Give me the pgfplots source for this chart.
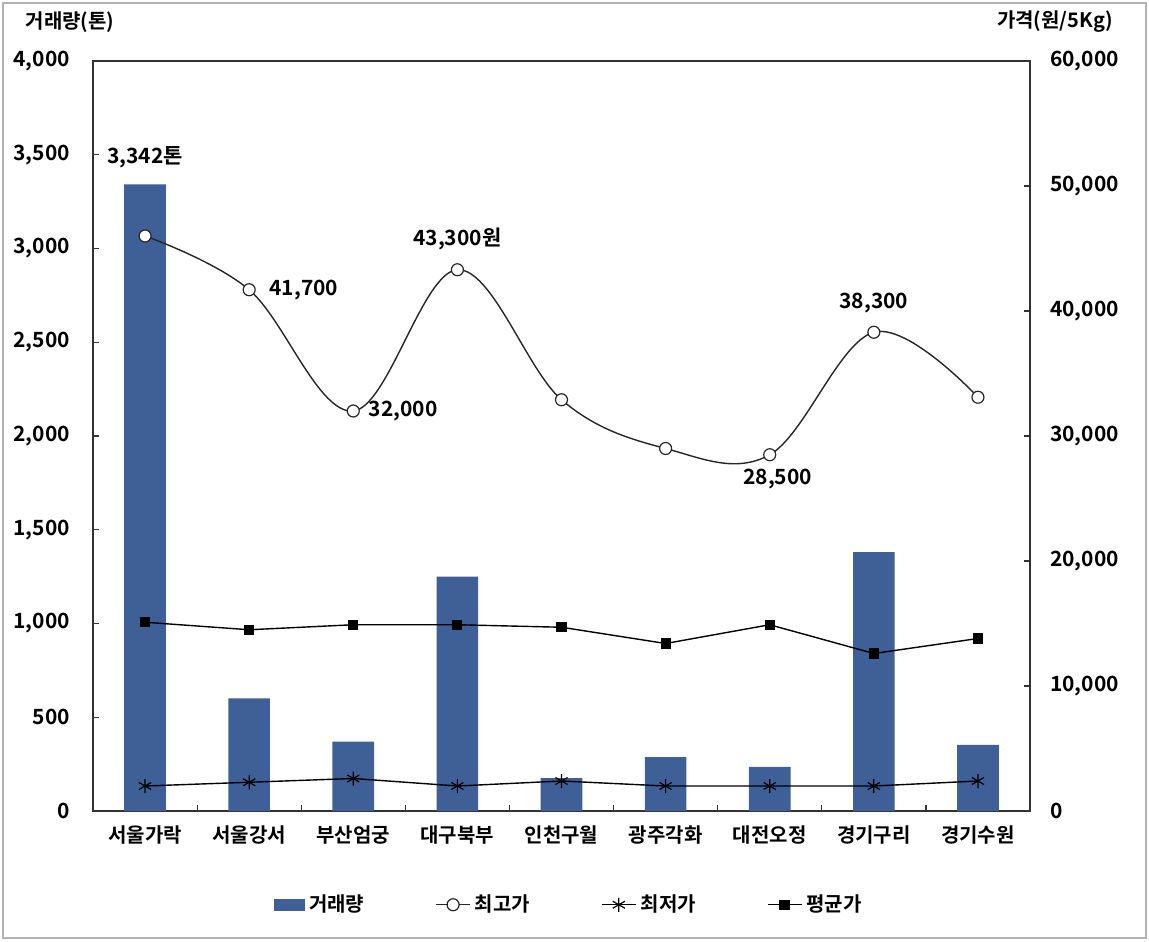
\documentclass[border=0pt]{standalone}
\usepackage{fontspec}
\setmainfont{Noto Sans CJK KR}[BoldFont={Noto Sans CJK KR Bold}]
\usepackage{pgfplots}
\pgfplotsset{compat=1.18}
\definecolor{barblue}{RGB}{62,96,150}
\definecolor{axisgray}{RGB}{50,50,50}
\tikzset{lbl/.style={inner sep=0pt, font=\bfseries\fontsize{10.5}{12}\selectfont}}

\begin{document}
\begin{tikzpicture}
\useasboundingbox (0,0) rectangle (574.5pt,470.5pt);
\draw[gray!60, line width=0.8pt] (1.5pt,1.5pt) rectangle (573pt,469pt);
\node[font=\bfseries\fontsize{10}{12}\selectfont] at (35pt,459.5pt) {거래량(톤)};
\node[font=\bfseries\fontsize{10}{12}\selectfont] at (527.5pt,459.5pt) {가격(원/5Kg)};
\pgfplotsset{
  common/.style={
    at={(46.5pt,65pt)}, anchor=south west,
    scale only axis, width=468.5pt, height=375pt,
    xmin=-0.5, xmax=8.5,
    tick align=inside,
    major tick length=3pt, minor tick length=3pt,
    scaled y ticks=false,
    axis line style={line width=0.8pt, axisgray},
    tick style={line width=0.6pt, axisgray},
    /pgf/number format/.cd, 1000 sep={,}, assume math mode=true,
  },
}
\begin{axis}[common,
  ymin=0, ymax=4000,
  xtick={0,...,8},
  xticklabels={서울가락,서울강서,부산엄궁,대구북부,인천구월,광주각화,대전오정,경기구리,경기수원},
  major x tick style={draw=none},
  minor xtick={0.5,1.5,...,7.5},
  xtick pos=bottom,
  ytick={0,500,...,4000},
  ytick pos=left,
  xticklabel style={font=\bfseries\fontsize{10}{12}\selectfont, yshift=-4pt},
  yticklabel style={font=\bfseries\fontsize{10.5}{12}\selectfont, xshift=-8pt},
]
\addplot[ybar, bar width=0.4, fill=barblue, draw=none] coordinates {
  (0,3342) (1,600) (2,370) (3,1250) (4,176) (5,288) (6,235) (7,1381) (8,352)
};
\node[lbl, anchor=south, yshift=8pt] at (axis cs:0,3342) {3,342톤};
\end{axis}
\begin{axis}[common,
  ymin=0, ymax=60000,
  axis x line=none,
  axis y line*=right,
  ytick={0,10000,...,60000},
  yticklabel style={font=\bfseries\fontsize{10.5}{12}\selectfont, xshift=6.5pt},
  legend style={draw=none, at={(0.509,-0.125)}, anchor=center,
    legend columns=4, font=\bfseries\fontsize{10}{12}\selectfont,
    /tikz/every even column/.append style={column sep=33.5pt},
    legend cell align=left},
]
\addlegendimage{legend image code/.code={\fill[barblue] (0pt,-2.6pt) rectangle (15pt,2.6pt);}}
\addlegendentry{거래량}
\addplot[smooth, tension=0.6, black!85, line width=0.7pt, mark=*, mark size=3pt, mark options={fill=white, draw=black!85, line width=0.6pt}] coordinates {
  (0,46000) (1,41700) (2,32000) (3,43300) (4,32900) (5,29000) (6,28500) (7,38300) (8,33100)
};
\addlegendentry{최고가}
\addplot[black, line width=0.7pt, mark=asterisk, mark size=3.5pt, mark options={line width=0.6pt}] coordinates {
  (0,2000) (1,2300) (2,2600) (3,2000) (4,2400) (5,2000) (6,2000) (7,2000) (8,2400)
};
\addlegendentry{최저가}
\addplot[black, line width=0.7pt, mark=square*, mark size=2.2pt] coordinates {
  (0,15100) (1,14500) (2,14900) (3,14900) (4,14700) (5,13400) (6,14900) (7,12600) (8,13800)
};
\addlegendentry{평균가}
\node[lbl, anchor=west, xshift=10pt] at (axis cs:1,41700) {41,700};
\node[lbl, anchor=west, xshift=7.5pt] at (axis cs:2,32000) {32,000};
\node[lbl, anchor=south, yshift=9.5pt] at (axis cs:3,43300) {43,300원};
\node[lbl, anchor=north, yshift=-7pt, xshift=4pt] at (axis cs:6,28500) {28,500};
\node[lbl, anchor=south, yshift=9.5pt] at (axis cs:7,38300) {38,300};
\end{axis}
\end{tikzpicture}
\end{document}
